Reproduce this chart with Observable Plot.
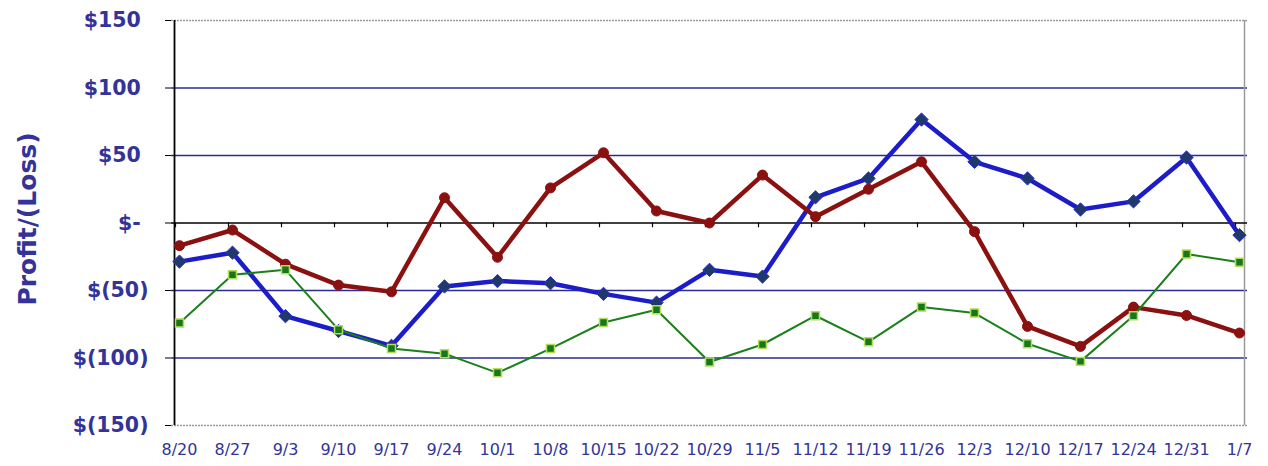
<!DOCTYPE html>
<html>
<head>
<meta charset="utf-8">
<script src="https://cdn.jsdelivr.net/npm/d3@7"></script>
<script src="https://cdn.jsdelivr.net/npm/@observablehq/plot@0.6"></script>
<style>
  html, body { margin: 0; padding: 0; background: #fff; }
  #chart svg { display: block; overflow: visible; }
</style>
</head>
<body>
<div id="chart"></div>
<script>
const weeks = ["8/20","8/27","9/3","9/10","9/17","9/24","10/1","10/8","10/15","10/22","10/29","11/5","11/12","11/19","11/26","12/3","12/10","12/17","12/24","12/31","1/7"];
const blueValues = [-28.6,-22,-69,-80,-91,-47,-43,-44.6,-52.5,-59,-34.7,-39.7,19,33,76.6,45.3,33,10,16,48.5,-9];
const redValues = [-16.8,-5.2,-30.5,-46,-51,18.7,-25.4,26,52,8.9,0,35.5,4.7,25,45.3,-6.4,-76.6,-91.4,-62.3,-68.5,-81.5];
const greenValues = [-74,-38.4,-34.7,-79,-93,-96.8,-111,-93,-73.7,-64.3,-103,-90,-68.7,-88,-62.3,-66.7,-89.4,-102.5,-68.7,-23,-29];
const yTicks = [-150,-100,-50,0,50,100,150];
const gridValues = [-100,-50,50,100];
const borderValues = [-150,150];
const yTitle = "Profit/(Loss)";

const rows = (vals) => weeks.map((w, i) => ({week: w, value: vals[i]}));
const blue = rows(blueValues), red = rows(redValues), green = rows(greenValues);

const PS = "\u2008";
const fmtY = v => v === 0 ? "$-" + PS : v > 0 ? "$" + v + PS : "$(" + Math.abs(v) + ")";

const textColor = "#333399";
const firstWeek = weeks[0], lastWeek = weeks[weeks.length - 1];

const chart = Plot.plot({
  width: 1268,
  height: 466,
  marginLeft: 171,
  marginRight: 21,
  marginTop: 20,
  marginBottom: 41,
  style: {fontFamily: "DejaVu Sans", background: "#fff"},
  x: {type: "point", domain: weeks, padding: 0, insetLeft: 5, insetRight: 5},
  y: {domain: [-150, 150]},
  marks: [
    Plot.ruleY(gridValues, {stroke: "#2b2b94", strokeWidth: 1.5}),
    Plot.ruleY(borderValues, {stroke: "#9a9a9a", strokeWidth: 1.5, strokeDasharray: "2,1"}),
    Plot.ruleX([lastWeek], {x: d => d, dx: 5, stroke: "#9a9a9a", strokeWidth: 1.5}),
    Plot.ruleY([0], {stroke: "#000", strokeWidth: 1.5}),
    Plot.ruleX(weeks, {x: d => d, y1: 0, y2: -3.5, dx: -4, stroke: "#000", strokeWidth: 1.2}),
    Plot.axisY({ticks: yTicks, tickFormat: fmtY, tickSize: 6, tickPadding: 17, stroke: "#000",
      fontSize: 20.5, fontWeight: "bold", fill: textColor, label: null}),
    Plot.ruleX([firstWeek], {x: d => d, dx: -5, stroke: "#000", strokeWidth: 1.8}),
    Plot.axisX({tickSize: 0, tickPadding: 18, fontSize: 16, fill: textColor, label: null}),
    Plot.text([yTitle], {frameAnchor: "left", textAnchor: "middle", dx: -144, dy: -4, rotate: -90, fontSize: 25, fontWeight: "bold", fill: textColor}),
    Plot.line(blue, {x: "week", y: "value", stroke: "#1c1cc8", strokeWidth: 4.5}),
    Plot.dot(blue, {x: "week", y: "value", symbol: "diamond2", r: 6, fill: "#1f3a6a", stroke: "#2a2ad0", strokeWidth: 1}),
    Plot.line(red, {x: "week", y: "value", stroke: "#8b1010", strokeWidth: 4.5}),
    Plot.dot(red, {x: "week", y: "value", symbol: "circle", r: 5, fill: "#8b1010", stroke: "#8b1010", strokeWidth: 1}),
    Plot.line(green, {x: "week", y: "value", stroke: "#1a801a", strokeWidth: 2}),
    Plot.dot(green, {x: "week", y: "value", symbol: "square", r: 4.5, fill: "#16781a", stroke: "#b5dc5a", strokeWidth: 1.5})
  ]
});
document.getElementById("chart").appendChild(chart);
</script>
</body>
</html>
